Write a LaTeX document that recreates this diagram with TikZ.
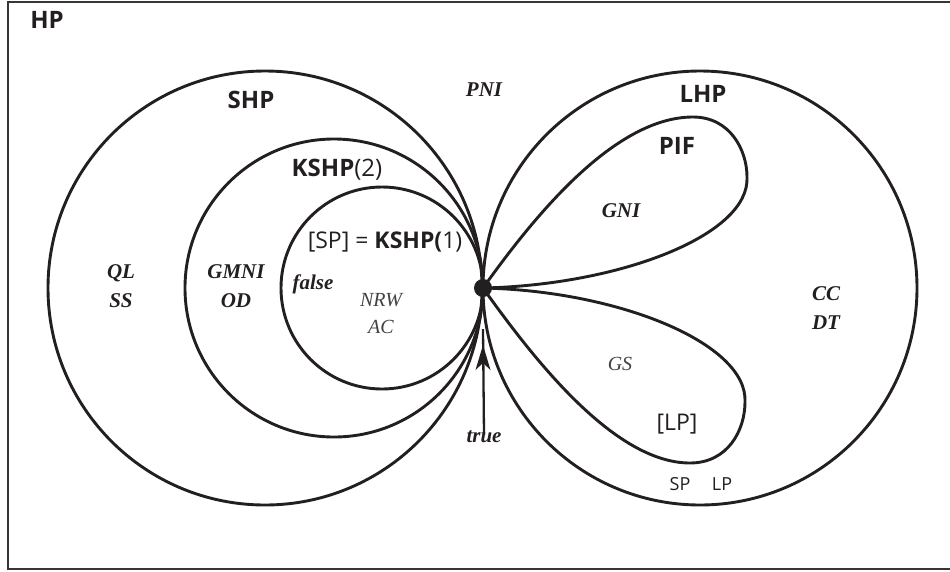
\documentclass[tikz,border=0pt]{standalone}
\usepackage{fontspec}
\setmainfont{Liberation Serif}
\newfontfamily\sansf{Open Sans}
\usetikzlibrary{arrows.meta}
\definecolor{ink}{HTML}{231F20}
\begin{document}
\begin{tikzpicture}[x=1pt,y=-1pt,
  curve/.style={draw=ink,line width=2.9pt},
  bsans/.style={text=ink,font=\sansf\bfseries\fontsize{24}{26}\selectfont,inner sep=0pt},
  rsans/.style={text=ink,font=\sansf\fontsize{23}{25}\selectfont,inner sep=0pt},
  ssans/.style={text=ink,font=\sansf\fontsize{18}{20}\selectfont,inner sep=0pt},
  bital/.style={text=ink,font=\bfseries\itshape\fontsize{21}{29}\selectfont,inner sep=0pt,align=center},
  rital/.style={text=ink!85,font=\itshape\fontsize{20}{27}\selectfont,inner sep=0pt,align=center},
  arrowhead/.style={fill=ink}]
\useasboundingbox (0,0) rectangle (950,571);
\draw[draw=ink!90,line width=2.8pt] (8,2) rectangle (953,569);
\coordinate (c) at (483,288);
% circles
\draw[curve] (265,288) circle[radius=217pt];
\draw[curve] (700,288) circle[radius=217pt];
\draw[curve] (334,288) circle[radius=149pt];
\draw[curve] (382,288) circle[radius=101pt];
% petals
\draw[curve] (c) .. controls (535,215) and (615,117) .. (693,117)
  .. controls (730,117) and (747,150) .. (747,177)
  .. controls (750,235) and (620,285) .. (c);
\draw[curve] (c) .. controls (535,361) and (615,463) .. (690,463)
  .. controls (728,463) and (745,430) .. (745,402)
  .. controls (748,344) and (620,291) .. (c);
\fill[ink] (c) circle[radius=9pt];
% labels
\node[bsans] (hp) at (47,20) {HP};
\node[bsans] (shp) at (251,100) {SHP};
\node[bsans] (kshp2) at (337,170) {KSHP\textmd{(2)}};
\node[rsans] (kshp1) at (385,242) {[SP] = \textbf{KSHP(}1)};
\node[bsans] (lhp) at (703,94) {LHP};
\node[bsans] (pif) at (677,146) {PIF};
\node[bital] (pni) at (484,90) {PNI};
\node[bital] (gni) at (621,211) {GNI};
\node[bital] (qlss) at (121,286) {QL\\SS};
\node[bital] (gmni) at (236,286) {GMNI\\OD};
\node[bital] (false) at (313,284) {false};
\node[rital] (nrw) at (381,314) {NRW\\AC};
\node[bital] (true) at (484,437) {true};
\node[rital] (gs) at (620,364) {GS};
\node[rsans] (lp) at (677,424) {[LP]};
\node[ssans] (sp) at (680,484) {SP};
\node[ssans] (lp2) at (722,484) {LP};
\node[bital] (ccdt) at (826,308) {CC\\DT};
% arrow
\coordinate (tip) at (483,345);
\draw[draw=ink,line width=2.3pt] ([yshift=-4pt]true.north) -- ([yshift=16pt]tip);
\fill[arrowhead] (tip) -- ++(-7.5,25) -- ++(7.5,-7) -- ++(7.5,7) -- cycle;
\end{tikzpicture}
\end{document}
